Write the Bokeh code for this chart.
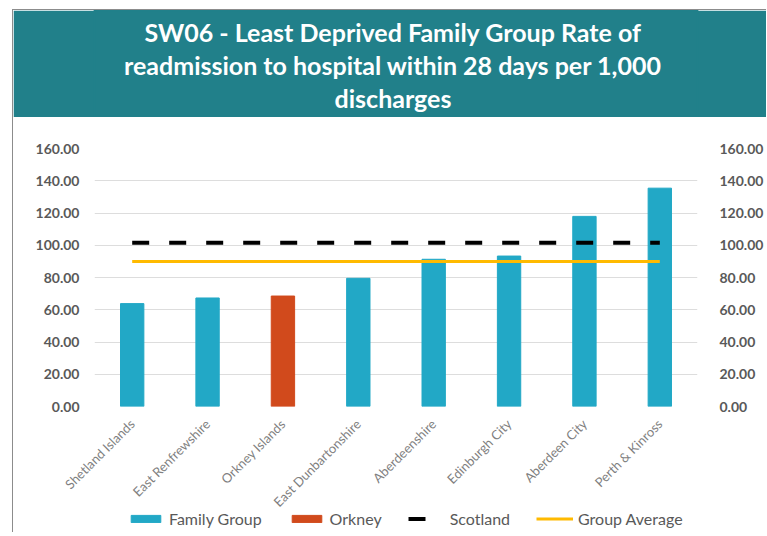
from math import pi
from bokeh.plotting import figure
from bokeh.layouts import column
from bokeh.models import (ColumnDataSource, LinearAxis, Legend, LegendItem,
                          NumeralTickFormatter, FixedTicker, Range1d, FactorRange)
from bokeh.core.properties import value
from bokeh.embed import file_html
from bokeh.resources import INLINE

categories = ["Shetland Islands", "East Renfrewshire", "Orkney Islands",
              "East Dunbartonshire", "Aberdeenshire", "Edinburgh City",
              "Aberdeen City", "Perth & Kinross"]
rates = [63.8, 67.3, 68.5, 79.5, 91.3, 93.3, 117.9, 135.4]
is_orkney = [False, False, True, False, False, False, False, False]
scotland_rate = 101.5
group_average = 90.0
y_ticks = [0, 20, 40, 60, 80, 100, 120, 140, 160]
legend_labels = ["Family Group", "Orkney", "Scotland", "Group Average"]
title_lines = ["SW06 - Least Deprived Family Group Rate of",
               "readmission to hospital within 28 days per 1,000",
               "discharges"]

TEAL = "#22A8C6"
ORANGE = "#D14A1C"
GOLD = "#FFBA00"
BAND = "#21808A"
FRAME = "#8C8C8C"
FONT = "Lato"
W = 753


def bare(fig):
    fig.xgrid.grid_line_color = None
    fig.ygrid.grid_line_color = None
    fig.outline_line_color = None
    return fig


# ---- title banner ----
tf = bare(figure(width=W, height=107, x_range=Range1d(0, 1), y_range=Range1d(107, 0),
                 x_axis_location=None, y_axis_location=None,
                 min_border_left=0, min_border_right=0, min_border_top=0,
                 min_border_bottom=0, output_backend="svg", toolbar_location=None))
tf.background_fill_color = BAND
tf.border_fill_color = BAND
tf.outline_line_color = BAND
tf.outline_line_width = 2
tf.text(x=[0.495, 0.495, 0.495], y=[21, 54, 87], text=title_lines,
        text_align="center", text_baseline="middle", text_color="white",
        text_font=value(FONT), text_font_style="bold", text_font_size="25px")

# ---- chart ----
fam_src = ColumnDataSource(dict(
    x=[c for c, o in zip(categories, is_orkney) if not o],
    y=[v for v, o in zip(rates, is_orkney) if not o]))
ork_src = ColumnDataSource(dict(
    x=[c for c, o in zip(categories, is_orkney) if o],
    y=[v for v, o in zip(rates, is_orkney) if o]))
line_src = ColumnDataSource(dict(
    x=categories,
    scot=[scotland_rate] * len(categories),
    avg=[group_average] * len(categories)))

p = figure(x_range=categories, y_range=(0, 160), width=W, height=440,
           output_backend="svg", toolbar_location=None,
           min_border_left=81, min_border_right=60, min_border_top=31,
           min_border_bottom=151)
p.outline_line_color = None
p.background_fill_color = "white"
p.border_fill_color = "white"

p.vbar(x="x", top="y", width=0.31, source=fam_src, color=TEAL)
p.vbar(x="x", top="y", width=0.31, source=ork_src, color=ORANGE)
p.line(x="x", y="scot", source=line_src, line_color="black", line_width=4,
       line_dash="17 20")
p.line(x="x", y="avg", source=line_src, line_color=GOLD, line_width=3)

p.xgrid.grid_line_color = None
p.ygrid.grid_line_color = "#DDDDDD"
p.ygrid.ticker = FixedTicker(ticks=y_ticks)


def style_y(ax, standoff):
    ax.ticker = FixedTicker(ticks=y_ticks)
    ax.formatter = NumeralTickFormatter(format="0.00")
    ax.axis_line_color = None
    ax.major_tick_line_color = None
    ax.minor_tick_line_color = None
    ax.major_label_text_font = FONT
    ax.major_label_text_font_style = "bold"
    ax.major_label_text_font_size = "14px"
    ax.major_label_text_color = "#595959"
    ax.major_label_standoff = standoff


style_y(p.yaxis[0], 9)
ra = LinearAxis()
style_y(ra, 16)
p.add_layout(ra, "right")

xa = p.xaxis[0]
xa.axis_line_color = None
xa.major_tick_line_color = None
xa.major_label_orientation = pi / 4
xa.major_label_text_font = FONT
xa.major_label_text_font_size = "13px"
xa.major_label_text_color = "#7F7F7F"
xa.major_label_standoff = 9

# ---- legend strip (overlaps the bottom of the chart canvas) ----
# same data as the chart, scrolled out of view so only the legend shows
lf = bare(figure(width=W, height=30, x_range=FactorRange(*categories),
                 y_range=Range1d(1000, 1001),
                 x_axis_location=None, y_axis_location=None,
                 min_border_left=0, min_border_right=0, min_border_top=0,
                 min_border_bottom=0, output_backend="svg", toolbar_location=None,
                 margin=(-55, 0, 0, 0)))
lf.background_fill_alpha = 0
lf.border_fill_alpha = 0
r_fam = lf.vbar(x="x", top="y", width=0.31, source=fam_src, color=TEAL)
r_ork = lf.vbar(x="x", top="y", width=0.31, source=ork_src, color=ORANGE)
r_scot = lf.line(x="x", y="scot", source=line_src, line_color="black",
                 line_width=4, line_dash="17 20")
r_avg = lf.line(x="x", y="avg", source=line_src, line_color=GOLD, line_width=3)
legend = Legend(items=[LegendItem(label=l, renderers=[r]) for l, r in
                       zip(legend_labels, [r_fam, r_ork, r_scot, r_avg])],
                orientation="horizontal", location=(33, 4),
                glyph_width=37, glyph_height=9, label_standoff=5, spacing=26,
                label_text_font=FONT, label_text_font_size="16px",
                label_text_color="#595959", border_line_color=None,
                background_fill_alpha=0, padding=2, margin=0)
lf.add_layout(legend, "center")

layout = column(tf, p, lf, spacing=0,
                styles={"border-left": f"1.5px solid {FRAME}",
                        "border-top": f"1.5px solid {FRAME}",
                        "margin-left": "12px", "margin-top": "9px"})
open("out.html", "w").write(file_html(layout, INLINE))
